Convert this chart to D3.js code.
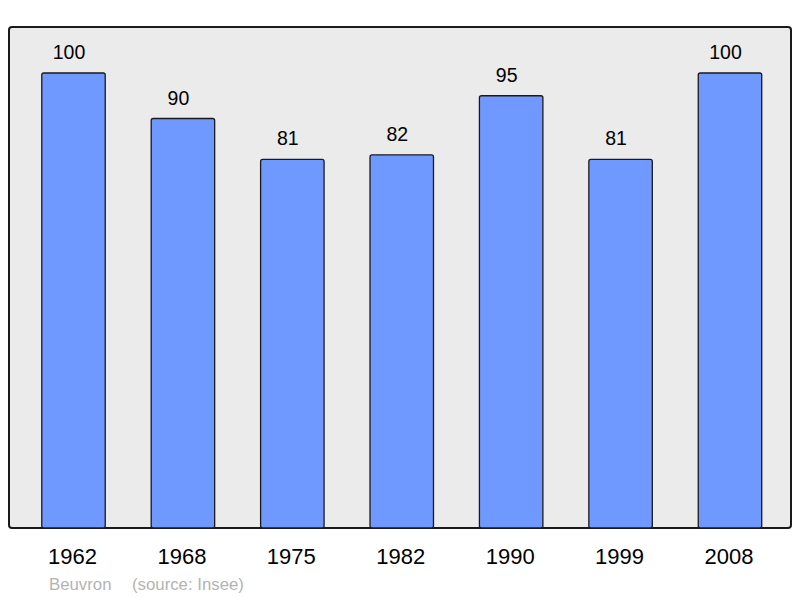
<!DOCTYPE html>
<html>
<head>
<meta charset="utf-8">
<script src="https://cdn.jsdelivr.net/npm/d3@7"></script>
<style>
  body { margin: 0; background: #fff; }
  svg { display: block; font-family: "Liberation Sans", Arial, sans-serif; }
</style>
</head>
<body>
<div id="chart"></div>
<script>
const years = ["1962", "1968", "1975", "1982", "1990", "1999", "2008"]
const population = [100, 90, 81, 82, 95, 81, 100]
const commune = "Beuvron"
const source = "(source: Insee)"

const svg_width = 800, svg_height = 598

let svg = d3.select("#chart")
    .append("svg")
    .attr("width", svg_width)
    .attr("height", svg_height)

// panel background
svg.append("rect")
    .attr("x", 9)
    .attr("y", 27)
    .attr("width", 782)
    .attr("height", 501)
    .attr("rx", 3)
    .style("fill", "#ebebeb")
    .style("stroke", "#1a1a1a")
    .style("stroke-width", 2)

let xScale = d3.scaleBand()
    .domain(years)
    .range([18.8, 784.7])
    .paddingInner(0.42)
    .paddingOuter(0.21)

let yScale = d3.scaleLinear()
    .domain([0, 100])
    .range([528, 73])

const rows = years.map((y, i) => ({ year: y, value: population[i] }))

// bars
svg.append("g")
    .selectAll("rect")
    .data(rows)
    .enter()
    .append("rect")
    .attr("x", d => xScale(d.year))
    .attr("y", d => yScale(d.value))
    .attr("width", xScale.bandwidth())
    .attr("height", d => yScale(0) - yScale(d.value))
    .attr("rx", 2)
    .style("fill", "#7099ff")
    .style("stroke", "#1a1a1a")
    .style("stroke-width", 1.3)

// value labels (sit a bit left of the bar centre in the original)
svg.append("g")
    .selectAll("text")
    .data(rows)
    .enter()
    .append("text")
    .attr("x", d => xScale(d.year) + xScale.bandwidth() / 2 - 4.5)
    .attr("y", d => yScale(d.value) - 14)
    .attr("text-anchor", "middle")
    .style("font-size", "19.5px")
    .style("fill", "#000")
    .text(d => d.value)

// year axis labels
svg.append("g")
    .selectAll("text")
    .data(years)
    .enter()
    .append("text")
    .attr("x", d => xScale(d) + xScale.bandwidth() / 2 - 1)
    .attr("y", 564)
    .attr("text-anchor", "middle")
    .style("font-size", "22px")
    .style("fill", "#000")
    .text(d => d)

// source note
svg.append("text")
    .attr("x", 49)
    .attr("y", 590)
    .style("font-size", "16.8px")
    .style("fill", "#b3b3b3")
    .text(commune)
svg.append("text")
    .attr("x", 132)
    .attr("y", 590)
    .style("font-size", "16.8px")
    .style("fill", "#b3b3b3")
    .text(source)
</script>
</body>
</html>
